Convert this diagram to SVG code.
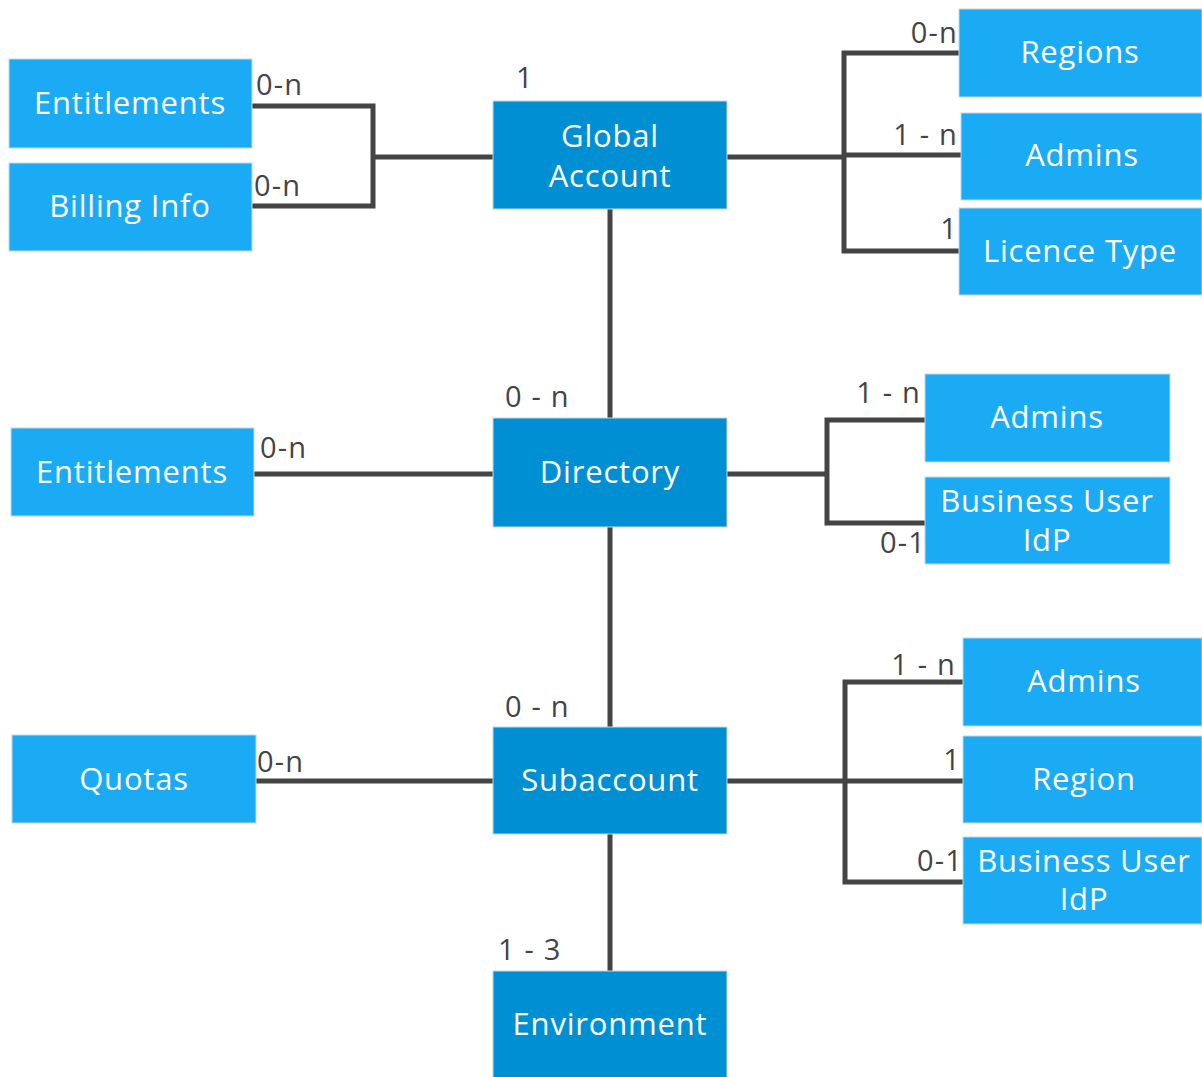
<svg xmlns="http://www.w3.org/2000/svg" width="1202" height="1077" viewBox="0 0 1202 1077">
<style>
.lb{fill:#1aabf4;stroke:#c8d6e0;stroke-width:1}
.db{fill:#008fd3;stroke:#c8d6e0;stroke-width:1}
.t{font-family:"Open Sans","Liberation Sans",sans-serif;font-size:31px;letter-spacing:0.8px;fill:#fff;text-anchor:middle}
.c{font-family:"Open Sans","Liberation Sans",sans-serif;font-size:29px;letter-spacing:1.2px;fill:#444}
.e{text-anchor:end}
.ln{fill:none;stroke:#444;stroke-width:5}
</style>
<rect width="1202" height="1077" fill="#fff"/>
<g id="connectors">
<path class="ln" d="M252 106 H373 V206 H252 M373 157 H493"/>
<path class="ln" d="M727 157 H844 M959 53 H844 V251 H959 M844 155 H961"/>
<path class="ln" d="M610 209 V418 M610 527 V727 M610 834 V971"/>
<path class="ln" d="M254 474 H493"/>
<path class="ln" d="M727 474 H827 M925 420 H827 V523 H925"/>
<path class="ln" d="M256 781 H493"/>
<path class="ln" d="M727 781 H963 M963 682 H845 V882 H963"/>
<text class="c" x="256" y="95">0-n</text>
<text class="c" x="254" y="196">0-n</text>
<text class="c" x="516" y="88">1</text>
<text class="c e" x="958" y="43">0-n</text>
<text class="c e" x="958" y="145">1 - n</text>
<text class="c e" x="958" y="239">1</text>
<text class="c" x="505" y="407">0 - n</text>
<text class="c e" x="921" y="403">1 - n</text>
<text class="c e" x="926" y="553">0-1</text>
<text class="c" x="260" y="458">0-n</text>
<text class="c" x="505" y="717">0 - n</text>
<text class="c" x="257" y="772">0-n</text>
<text class="c e" x="956" y="675">1 - n</text>
<text class="c e" x="961" y="770">1</text>
<text class="c e" x="963" y="871">0-1</text>
<text class="c" x="498" y="960">1 - 3</text>
</g>
<g id="entitlements-top"><rect class="lb" x="9" y="59" width="243" height="89"/><text class="t" x="130" y="114">Entitlements</text></g>
<g id="billing-info"><rect class="lb" x="9" y="163" width="243" height="88"/><text class="t" x="130" y="217">Billing Info</text></g>
<g id="global-account"><rect class="db" x="493" y="101" width="234" height="108"/><text class="t" x="610" y="147">Global</text><text class="t" x="610" y="187">Account</text></g>
<g id="regions"><rect class="lb" x="959" y="9" width="243" height="88"/><text class="t" x="1080" y="63">Regions</text></g>
<g id="admins-ga"><rect class="lb" x="961" y="113" width="241" height="87"/><text class="t" x="1082" y="166">Admins</text></g>
<g id="licence-type"><rect class="lb" x="959" y="208" width="243" height="87"/><text class="t" x="1080" y="262">Licence Type</text></g>
<g id="entitlements-dir"><rect class="lb" x="11" y="428" width="243" height="88"/><text class="t" x="132" y="483">Entitlements</text></g>
<g id="directory"><rect class="db" x="493" y="418" width="234" height="109"/><text class="t" x="610" y="483">Directory</text></g>
<g id="admins-dir"><rect class="lb" x="925" y="374" width="245" height="88"/><text class="t" x="1047" y="428">Admins</text></g>
<g id="bui-dir"><rect class="lb" x="925" y="477" width="245" height="87"/><text class="t" x="1047" y="512">Business User</text><text class="t" x="1047" y="551">IdP</text></g>
<g id="quotas"><rect class="lb" x="12" y="735" width="244" height="88"/><text class="t" x="134" y="790">Quotas</text></g>
<g id="subaccount"><rect class="db" x="493" y="727" width="234" height="107"/><text class="t" x="610" y="791">Subaccount</text></g>
<g id="admins-sub"><rect class="lb" x="963" y="638" width="239" height="88"/><text class="t" x="1084" y="692">Admins</text></g>
<g id="region-sub"><rect class="lb" x="963" y="736" width="239" height="87"/><text class="t" x="1084" y="790">Region</text></g>
<g id="bui-sub"><rect class="lb" x="963" y="837" width="239" height="87"/><text class="t" x="1084" y="872">Business User</text><text class="t" x="1084" y="910">IdP</text></g>
<g id="environment"><rect class="db" x="493" y="971" width="234" height="110"/><text class="t" x="610" y="1035">Environment</text></g>
</svg>
